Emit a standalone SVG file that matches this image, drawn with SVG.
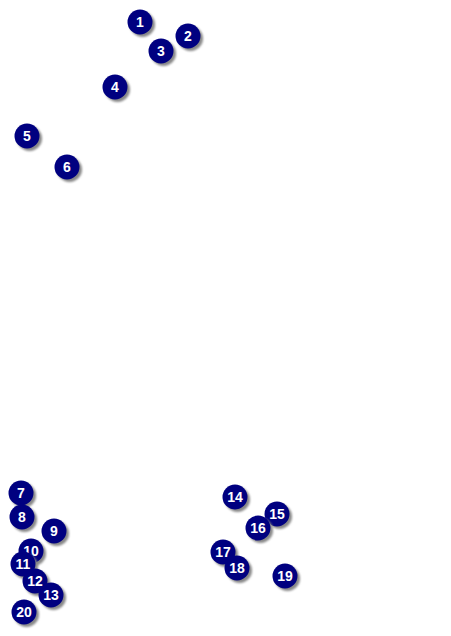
<svg xmlns="http://www.w3.org/2000/svg" width="451" height="636" viewBox="0 0 451 636">
<defs>
<filter id="sh" x="-50%" y="-50%" width="200%" height="200%"><feGaussianBlur stdDeviation="0.8"/></filter>
<g id="m"><circle cx="2.5" cy="2.5" r="12.5" fill="#888" filter="url(#sh)"/><circle r="12.5" fill="#000080"/></g>
</defs>
<style>text{font-family:"Liberation Sans",Arial,sans-serif;font-weight:bold;font-size:14px;fill:#fff;text-anchor:middle}</style>
<rect width="451" height="636" fill="#fff"/>
<g id="connectors"/>
<g id="n1" transform="translate(140,22)"><use href="#m"/><text y="5">1</text></g>
<g id="n2" transform="translate(188,36)"><use href="#m"/><text y="5">2</text></g>
<g id="n3" transform="translate(161,51)"><use href="#m"/><text y="5">3</text></g>
<g id="n4" transform="translate(115,87)"><use href="#m"/><text y="5">4</text></g>
<g id="n5" transform="translate(27,136)"><use href="#m"/><text y="5">5</text></g>
<g id="n6" transform="translate(67,167)"><use href="#m"/><text y="5">6</text></g>
<g id="n7" transform="translate(21,493)"><use href="#m"/><text y="5">7</text></g>
<g id="n8" transform="translate(22,517)"><use href="#m"/><text y="5">8</text></g>
<g id="n9" transform="translate(54,531)"><use href="#m"/><text y="5">9</text></g>
<g id="n10" transform="translate(31,551)"><use href="#m"/><text y="5">10</text></g>
<g id="n11" transform="translate(23,564)"><use href="#m"/><text y="5">11</text></g>
<g id="n12" transform="translate(35,581)"><use href="#m"/><text y="5">12</text></g>
<g id="n13" transform="translate(51,595)"><use href="#m"/><text y="5">13</text></g>
<g id="n14" transform="translate(235,497)"><use href="#m"/><text y="5">14</text></g>
<g id="n15" transform="translate(277,514)"><use href="#m"/><text y="5">15</text></g>
<g id="n16" transform="translate(258,528)"><use href="#m"/><text y="5">16</text></g>
<g id="n17" transform="translate(223,552)"><use href="#m"/><text y="5">17</text></g>
<g id="n18" transform="translate(237,568)"><use href="#m"/><text y="5">18</text></g>
<g id="n19" transform="translate(285,576)"><use href="#m"/><text y="5">19</text></g>
<g id="n20" transform="translate(24,612)"><use href="#m"/><text y="5">20</text></g>
</svg>
